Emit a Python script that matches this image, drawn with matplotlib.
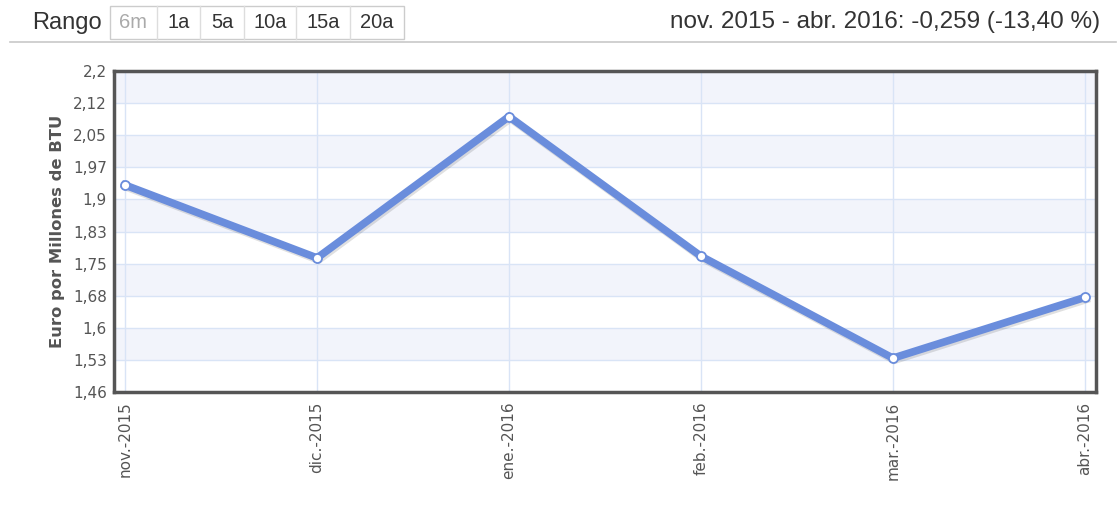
import numpy as np
import matplotlib.pyplot as plt
import matplotlib.patheffects as pe
from matplotlib.patches import Rectangle
from matplotlib.lines import Line2D

# Monthly gas price, euro per million BTU
months = ['nov.-2015', 'dic.-2015', 'ene.-2016', 'feb.-2016', 'mar.-2016', 'abr.-2016']
prices = [1.937, 1.769, 2.095, 1.773, 1.538, 1.678]

y_ticks = [1.46, 1.534, 1.608, 1.682, 1.756, 1.83, 1.904, 1.978, 2.052, 2.126, 2.2]
y_tick_labels = ['1,46', '1,53', '1,6', '1,68', '1,75', '1,83', '1,9', '1,97', '2,05', '2,12', '2,2']

range_buttons = ['6m', '1a', '5a', '10a', '15a', '20a']
button_edges = [110, 157, 200, 244, 296, 350, 404]
summary = 'nov. 2015 - abr. 2016: -0,259 (-13,40 %)'

W, H = 1119, 516
fig = plt.figure(figsize=(W / 100, H / 100), dpi=100)
plt.rcParams['font.family'] = ['DejaVu Sans']
header_font = 'Liberation Sans'


def fx(px):
    return px / W


def fy(py):
    return 1 - py / H


# Axes placed in pixel coordinates
left, right, top, bottom = 114, 1096, 71, 392
ax = fig.add_axes([fx(left), fy(bottom), fx(right - left), (bottom - top) / H])

x = np.arange(len(months))
pad = 0.058
ax.set_xlim(-pad, len(months) - 1 + pad)
ax.set_ylim(y_ticks[0], y_ticks[-1])

# alternating bands, top one tinted
for i in range(len(y_ticks) - 1):
    if (len(y_ticks) - 2 - i) % 2 == 0:
        ax.axhspan(y_ticks[i], y_ticks[i + 1], color='#f2f4fb', zorder=0, lw=0)

ax.set_yticks(y_ticks)
ax.set_yticklabels(y_tick_labels)
ax.set_xticks(x)
ax.set_xticklabels(months, rotation=90, va='top')
ax.grid(True, color='#d9e4f6', lw=1, zorder=1)
ax.tick_params(length=0, labelsize=11, labelcolor='#555555', pad=5)
ax.tick_params(axis='x', pad=7)

for s in ax.spines.values():
    s.set_color('#555555')
    s.set_linewidth(2.5)

ax.plot(x, prices, color='#6a8ddc', lw=5.5, solid_joinstyle='miter', zorder=3,
        path_effects=[pe.SimpleLineShadow(offset=(1, -1.5), shadow_color='black', alpha=0.12),
                      pe.Normal()])
ax.plot(x, prices, ls='none', marker='o', ms=6.5, mfc='white', mec='#6a8ddc', mew=1.3, zorder=4,
        clip_on=False)

ax.set_ylabel('Euro por Millones de BTU', fontsize=11.8, fontweight='bold', color='#555555', labelpad=6)

# header: range selector and summary
fig.text(fx(32), fy(29), 'Rango', fontsize=17, color='#333333', va='baseline', ha='left', family=header_font)
fig.add_artist(Rectangle((fx(button_edges[0]), fy(39)), fx(button_edges[-1] - button_edges[0]), 33 / H,
                         transform=fig.transFigure, fc='white', ec='#cccccc', lw=1))
for i, lab in enumerate(range_buttons):
    x0 = button_edges[i]
    x1 = button_edges[i + 1]
    if i > 0:
        fig.add_artist(Line2D([fx(x0), fx(x0)], [fy(39), fy(6)], transform=fig.transFigure,
                              color='#dddddd', lw=1))
    fig.text(fx((x0 + x1) / 2), fy(28), lab, fontsize=14.5, ha='center', va='baseline',
             color='#aaaaaa' if i == 0 else '#333333', family=header_font)

fig.text(fx(1100), fy(28), summary, fontsize=17.5, ha='right', va='baseline', color='#333333', family=header_font)
fig.add_artist(Line2D([fx(10), fx(1116)], [fy(42), fy(42)], transform=fig.transFigure, color='#c8c8c8', lw=1.2))

fig.savefig('out.png', dpi=100)
